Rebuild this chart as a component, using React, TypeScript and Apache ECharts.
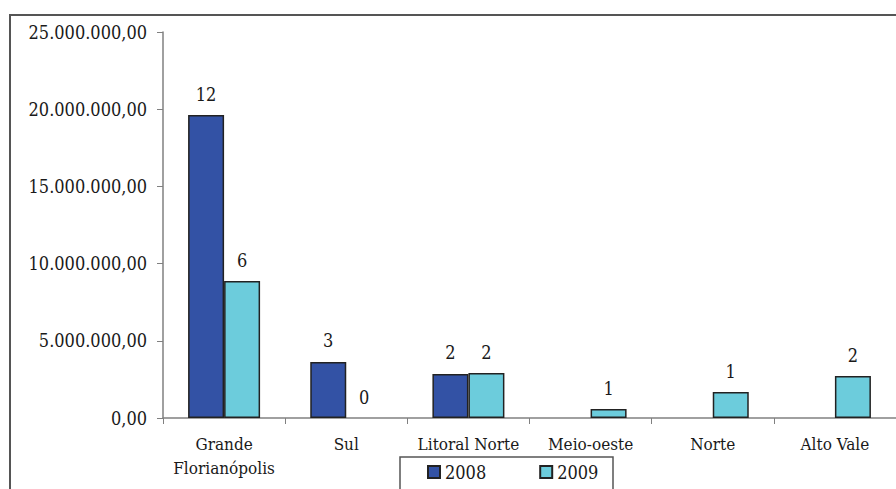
import React, { useEffect, useRef } from "react";
import * as echarts from "echarts";

const categories = ["Grande\nFlorianópolis", "Sul", "Litoral Norte", "Meio-oeste", "Norte", "Alto Vale"];
const values2008 = [19620000, 3630000, 2850000, null, null, null];
const values2009 = [8870000, 0, 2910000, 580000, 1680000, 2720000];
const counts2008 = [12, 3, 2, null, null, null];
const counts2009 = [6, 0, 2, 1, 1, 2];
const seriesNames = ["2008", "2009"];

const FONT = "DejaVu Serif Condensed, DejaVu Serif, serif";

function fmt(v: number): string {
  const s = Math.round(v).toString().replace(/\B(?=(\d{3})+(?!\d))/g, ".");
  return s + ",00";
}

const toData = (vals: (number | null)[]) =>
  vals.map((v) => (v === 0 ? { value: 0, itemStyle: { borderWidth: 0 } } : v));

export default function App() {
  const ref = useRef<HTMLDivElement>(null);
  useEffect(() => {
    if (!ref.current) return;
    const chart = echarts.init(ref.current, null, { renderer: "svg" });
    const mkLabel = (counts: (number | null)[]) => ({
      show: true,
      position: "top",
      distance: 12,
      color: "#1a1a1a",
      fontFamily: FONT,
      fontSize: 18,
      formatter: (p: any) => (counts[p.dataIndex] == null ? "" : String(counts[p.dataIndex])),
    });
    chart.setOption({
      animation: false,
      backgroundColor: "#ffffff",
      textStyle: { fontFamily: FONT },
      grid: { left: 163, right: -5, top: 32, bottom: 71 },
      legend: {
        data: seriesNames,
        left: 427,
        top: 463,
        icon: "rect",
        itemWidth: 12,
        itemHeight: 12,
        itemGap: 53,
        padding: 0,
        textStyle: { fontFamily: FONT, fontSize: 18, color: "#1a1a1a" },
      },
      xAxis: {
        type: "category",
        data: categories,
        axisLine: { show: true, lineStyle: { color: "#808080", width: 1.5 } },
        axisTick: { show: true, length: 6, alignWithLabel: false, lineStyle: { color: "#808080" } },
        axisLabel: {
          fontFamily: FONT,
          fontSize: 17,
          color: "#1a1a1a",
          margin: 14,
          lineHeight: 24,
          interval: 0,
        },
      },
      yAxis: {
        type: "value",
        min: 0,
        max: 25000000,
        interval: 5000000,
        axisLine: { show: true, lineStyle: { color: "#808080", width: 1.5 } },
        axisTick: { show: true, length: 6, lineStyle: { color: "#808080" } },
        splitLine: { show: false },
        axisLabel: {
          fontFamily: FONT,
          fontSize: 18,
          color: "#1a1a1a",
          margin: 16,
          formatter: (v: number) => fmt(v),
        },
      },
      series: [
        {
          name: seriesNames[0],
          type: "bar",
          data: toData(values2008),
          barWidth: 36,
          barGap: "0%",
          itemStyle: { color: "#3352A5", borderColor: "#222", borderWidth: 1.5 },
          label: mkLabel(counts2008),
        },
        {
          name: seriesNames[1],
          type: "bar",
          data: toData(values2009),
          barWidth: 36,
          barGap: "0%",
          itemStyle: { color: "#6CCCDC", borderColor: "#222", borderWidth: 1.5 },
          label: mkLabel(counts2009),
        },
      ],
      graphic: [
        {
          type: "rect",
          shape: { x: 10, y: 15, width: 900, height: 500 },
          style: { fill: "none", stroke: "#555", lineWidth: 2 },
          silent: true,
        },
        {
          type: "rect",
          shape: { x: 400, y: 457, width: 213, height: 60 },
          style: { fill: "none", stroke: "#555", lineWidth: 1.5 },
          silent: true,
        },
      ],
    });
    return () => chart.dispose();
  }, []);
  return (
    <div
      ref={ref}
      style={{ position: "fixed", left: 0, top: 0, width: 896, height: 489, background: "#fff" }}
    />
  );
}
